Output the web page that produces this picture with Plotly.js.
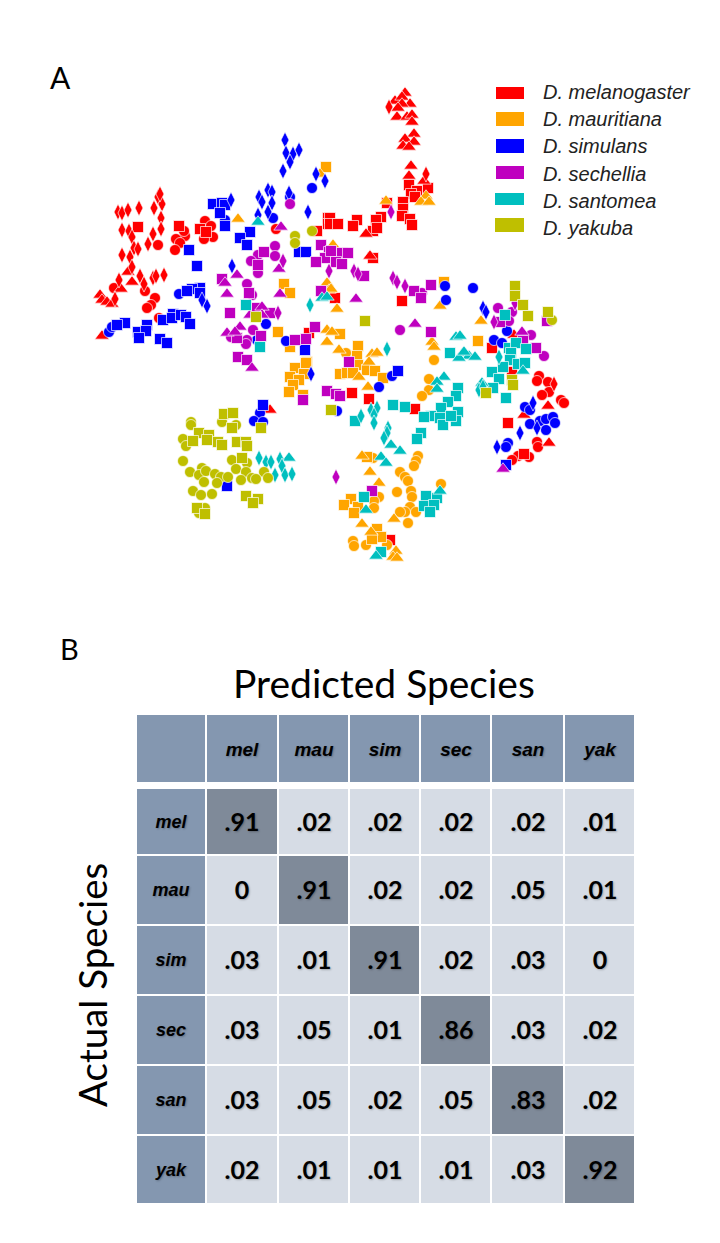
<!DOCTYPE html>
<html><head><meta charset="utf-8">
<script src="https://cdn.plot.ly/plotly-3.0.1.min.js"></script>
<style>html,body{margin:0;padding:0;background:#fff}#c{width:720px;height:1243px}</style>
</head><body><div id="c"></div>
<script>
const speciesNames=["D. melanogaster","D. mauritiana","D. simulans","D. sechellia","D. santomea","D. yakuba"];
const speciesColors=["#FF0000","#FFA500","#0000FF","#BF00BF","#00BFBF","#BFBF00"];
const shortNames=["mel","mau","sim","sec","san","yak"];

const melCircle=[[158,245],[114,288],[145,291],[155,298],[151,305],[147,308],[159,318],[205,221],[211,226],[185,236],[176,239],[180,243],[175,250],[213,237],[204,239],[276,229],[184,231],[539,376],[537,381],[548,382],[549,392],[542,395],[561,400],[564,403],[537,442],[538,447],[529,457],[518,456],[512,460]];
const melSquare=[[138,227],[179,226],[200,229],[206,232],[317,231],[328,218],[328,224],[309,333],[409,185],[417,191],[428,188],[411,194],[415,197],[387,203],[403,202],[403,209],[402,216],[410,219],[412,225],[381,217],[376,220],[357,220],[353,226],[373,231],[377,228],[330,218],[330,224],[338,224],[373,258],[335,298],[402,301],[492,348],[352,393],[369,399],[415,409],[508,423],[512,372],[390,540],[524,454]];
const melTriangle=[[128,272],[132,282],[121,289],[100,295],[102,300],[107,302],[112,304],[102,336],[405,93],[395,101],[402,97],[410,104],[402,104],[398,108],[397,117],[407,117],[412,115],[412,122],[414,134],[405,139],[414,142],[403,146],[409,147],[411,166],[409,176],[424,181],[366,234],[370,256],[514,335],[548,406],[524,415],[549,443],[270,410]];
const melDiamond=[[118,212],[122,213],[128,210],[139,208],[154,208],[158,197],[162,204],[160,194],[161,218],[161,229],[122,230],[129,231],[132,237],[153,234],[148,244],[134,248],[138,249],[122,255],[130,257],[132,267],[140,276],[144,284],[119,280],[153,278],[156,276],[164,275],[115,299],[389,107],[426,174],[554,384]];

const mauCircle=[[346,353],[434,360],[429,379],[429,390],[422,396],[418,456],[416,461],[414,466],[400,472],[405,477],[408,481],[397,492],[411,491],[412,497],[441,484],[410,507],[405,512],[400,512],[416,512],[408,523],[379,497],[374,501],[374,508],[353,541],[354,546],[366,545],[387,545],[373,458]];
const mauSquare=[[326,167],[284,284],[290,293],[278,332],[290,347],[307,362],[478,341],[444,282],[340,334],[358,346],[357,356],[358,365],[340,374],[347,373],[353,373],[367,370],[375,371],[383,378],[295,368],[306,363],[304,374],[290,377],[299,380],[293,385],[289,392],[303,395],[367,457],[351,499],[358,507],[344,505],[354,513],[377,529],[381,537],[372,539]];
const mauTriangle=[[238,219],[320,174],[327,283],[329,290],[327,330],[327,342],[386,201],[426,196],[421,202],[429,202],[333,245],[331,289],[337,309],[440,306],[481,321],[332,332],[432,342],[434,347],[339,350],[372,354],[377,353],[369,362],[359,377],[368,387],[362,456],[370,472],[379,483],[362,524],[371,532],[396,551],[393,557],[397,558],[394,519]];

const simCircle=[[312,188],[273,218],[290,197],[225,220],[179,294],[109,332],[112,327],[266,324],[286,341],[257,340],[445,286],[473,288],[446,300],[507,331],[494,340],[502,343],[379,387],[392,376],[260,413],[254,421],[263,422],[337,411],[525,407],[530,410],[530,424],[540,421],[546,419],[553,417],[555,423],[546,430],[508,443],[506,447]];
const simSquare=[[213,204],[222,203],[225,205],[220,213],[225,226],[250,232],[240,238],[247,245],[189,250],[197,266],[299,252],[306,252],[200,288],[192,289],[187,291],[200,293],[125,323],[117,325],[147,325],[138,332],[146,331],[139,338],[160,339],[167,343],[163,320],[173,314],[172,318],[181,315],[186,317],[190,324],[305,350],[398,371],[263,405],[227,486],[506,465]];
const simDiamond=[[285,140],[286,153],[293,154],[299,150],[290,162],[283,171],[316,174],[325,181],[268,190],[272,192],[289,193],[259,197],[262,202],[272,203],[258,215],[268,212],[308,212],[231,200],[232,266],[207,306],[202,300],[483,308],[486,312],[497,447],[520,433],[533,403],[537,428],[311,374]];

const secCircle=[[290,204],[275,246],[275,256],[258,255],[251,261],[258,273],[247,284],[252,295],[253,330],[231,337],[247,340],[246,344],[400,330],[422,293],[498,308],[512,312],[509,321],[531,335],[544,356],[523,340]];
const secSquare=[[321,245],[329,252],[325,258],[316,262],[264,252],[258,265],[222,279],[249,293],[321,291],[230,313],[257,308],[270,313],[315,327],[306,339],[295,340],[261,336],[237,338],[238,357],[247,360],[331,251],[342,253],[348,253],[336,262],[342,264],[364,276],[431,285],[414,291],[421,298],[431,332],[500,322],[523,341],[536,348],[547,321],[349,362],[327,391],[336,394],[340,396],[303,400],[372,491]];
const secTriangle=[[281,227],[279,269],[237,275],[225,283],[227,294],[280,294],[262,307],[250,315],[240,327],[227,333],[235,332],[262,315],[356,299],[415,324],[522,332],[252,368],[503,469]];
const secDiamond=[[283,261],[329,271],[278,313],[391,212],[354,271],[358,274],[393,278],[397,282],[405,286],[494,322],[515,303],[336,477]];

const sanSquare=[[246,305],[260,347],[505,315],[450,353],[509,348],[516,343],[526,349],[511,353],[393,405],[405,407],[355,421],[510,360],[503,367],[518,364],[525,363],[492,372],[499,379],[493,388],[506,398],[458,388],[456,396],[448,402],[441,408],[458,412],[431,416],[424,417],[440,418],[456,421],[443,425],[451,416],[421,433],[417,439],[426,496],[437,498],[424,506],[434,505],[430,512],[364,497],[381,552]];
const sanTriangle=[[258,222],[322,298],[327,297],[456,337],[460,336],[463,353],[469,356],[475,357],[459,358],[464,352],[523,371],[444,377],[437,382],[437,389],[391,445],[400,451],[381,457],[386,463],[366,510],[440,491],[376,556],[482,383],[289,458]];
const sanDiamond=[[310,305],[387,349],[499,357],[361,416],[371,410],[377,408],[374,415],[374,423],[388,428],[387,433],[384,438],[259,458],[266,462],[271,462],[280,459],[282,466],[275,475],[285,475],[292,474],[479,390],[483,387]];

const yakCircle=[[295,236],[295,243],[312,231],[552,320],[191,422],[191,425],[222,422],[236,425],[183,439],[186,446],[183,461],[232,460],[247,463],[236,469],[202,468],[190,472],[199,475],[206,471],[215,474],[221,477],[228,477],[246,472],[264,472],[268,478],[252,478],[256,479],[241,480],[204,482],[217,483],[193,491],[201,495],[212,494],[205,508],[199,513]];
const yakSquare=[[256,317],[365,321],[515,286],[515,296],[523,305],[528,316],[548,312],[224,414],[233,413],[232,428],[261,428],[199,433],[209,435],[207,440],[193,441],[218,442],[222,445],[237,442],[246,442],[247,446],[242,458],[246,496],[258,499],[253,503],[197,508],[205,514],[331,410],[512,380],[513,385],[486,393]];

const confusion=[
 [.91,.02,.02,.02,.02,.01],
 [0,.91,.02,.02,.05,.01],
 [.03,.01,.91,.02,.03,0],
 [.03,.05,.01,.86,.03,.02],
 [.03,.05,.02,.05,.83,.02],
 [.02,.01,.01,.01,.03,.92]];
const colEdges=[206,278,349,420,491,564,635];
const rowEdges=[788,855,925,995,1065,1135,1204];
const headerLeft=136, headerTop=715, headerBottom=782;
const legendKeyTops=[87,112,139,166,193,218];
const legendKeyBottoms=[99,126,153,179,205,232];
const legendTextY=[92,119,146,174,201,228];

const symbolSets=[
 [melCircle,melSquare,melTriangle,melDiamond],
 [mauCircle,mauSquare,mauTriangle,[]],
 [simCircle,simSquare,[],simDiamond],
 [secCircle,secSquare,secTriangle,secDiamond],
 [[],sanSquare,sanTriangle,sanDiamond],
 [yakCircle,yakSquare,[],[]]];
const symbols=["circle","square","triangle-up","diamond-tall"];
const symSizes=[11,11,12.5,11.5];
const traces=[];
symbolSets.forEach((set,s)=>set.forEach((pts,k)=>{
  if(!pts.length) return;
  traces.push({type:"scatter",mode:"markers",name:speciesNames[s],showlegend:false,
    x:pts.map(p=>p[0]),y:pts.map(p=>p[1]),
    marker:{symbol:symbols[k],size:symSizes[k],color:speciesColors[s],line:{color:"rgba(255,255,255,0.85)",width:0.8}}});
}));

const fmt=v=>v===0?"0":v.toFixed(2).slice(1);
const shadow="1px 1px 2px rgba(0,0,0,0.25)";
const scaleCells=[[0,"#D6DCE5"],[0.5,"#D6DCE5"],[0.5,"#7F8A99"],[1,"#7F8A99"]];
const scaleHeader=[[0,"#8497B0"],[1,"#8497B0"]];
traces.push({type:"heatmap",x:colEdges,y:rowEdges,z:confusion,zmin:0,zmax:1,colorscale:scaleCells,showscale:false,xgap:2,ygap:2,
  text:confusion.map(r=>r.map(fmt)),texttemplate:"%{text}",
  textfont:{family:"Lato, 'Noto Sans', sans-serif",size:25,color:"#000",weight:700,shadow:shadow}});
traces.push({type:"heatmap",x:[headerLeft].concat(colEdges),y:[headerTop,headerBottom],z:[[1,1,1,1,1,1,1]],zmin:0,zmax:1,colorscale:scaleHeader,showscale:false,xgap:2,ygap:0,
  text:[[""].concat(shortNames)],texttemplate:"%{text}",
  textfont:{family:"'Liberation Sans', Arial, sans-serif",size:19,color:"#000",weight:700,style:"italic",shadow:shadow}});
traces.push({type:"heatmap",x:[headerLeft,colEdges[0]],y:rowEdges,z:shortNames.map(()=>[1]),zmin:0,zmax:1,colorscale:scaleHeader,showscale:false,xgap:2,ygap:2,
  text:shortNames.map(n=>[n]),texttemplate:"%{text}",
  textfont:{family:"'Liberation Sans', Arial, sans-serif",size:18,color:"#000",weight:700,style:"italic",shadow:shadow}});

const shapes=speciesColors.map((c,i)=>({type:"rect",xref:"x",yref:"y",x0:i>=4?495:496,x1:524,y0:legendKeyTops[i],y1:legendKeyBottoms[i],fillcolor:c,line:{width:0},layer:"above"}));
const latoFont=s=>({family:"Lato, 'Noto Sans', sans-serif",size:s,color:"#000"});
const annotations=speciesNames.map((n,i)=>({xref:"x",yref:"y",x:541,y:legendTextY[i],xanchor:"left",yanchor:"middle",showarrow:false,text:"<i>"+n+"</i>",font:{family:"'Liberation Sans', Arial, sans-serif",size:20,color:"#222"}}));
annotations.push({xref:"x",yref:"y",x:60,y:77,showarrow:false,text:"A",font:latoFont(30)});
annotations.push({xref:"x",yref:"y",x:69,y:648,showarrow:false,text:"B",font:latoFont(29)});
annotations.push({xref:"x",yref:"y",x:384,y:683,showarrow:false,text:"Predicted Species",font:latoFont(39)});
annotations.push({xref:"x",yref:"y",x:92,y:985,showarrow:false,textangle:-90,text:"Actual Species",font:latoFont(38.5)});

Plotly.newPlot("c",traces,{
  width:720,height:1243,margin:{l:0,r:0,t:0,b:0},paper_bgcolor:"#fff",plot_bgcolor:"#fff",
  xaxis:{range:[0,720],visible:false,fixedrange:true},
  yaxis:{range:[1243,0],visible:false,fixedrange:true},
  shapes:shapes,annotations:annotations,showlegend:false,hovermode:false
},{displayModeBar:false,staticPlot:true});
</script></body></html>
